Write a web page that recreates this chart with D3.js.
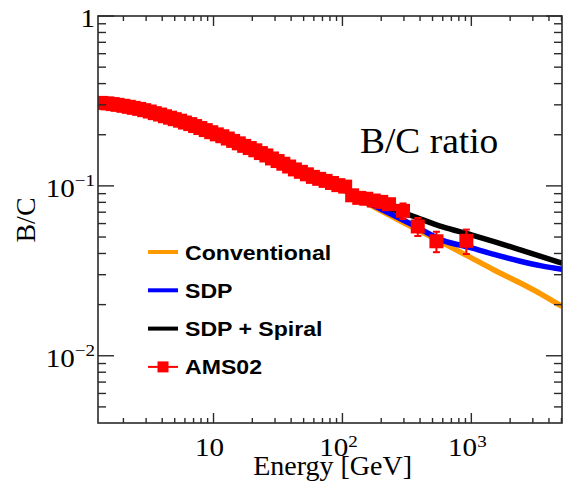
<!DOCTYPE html>
<html>
<head>
<meta charset="utf-8">
<script src="https://cdn.jsdelivr.net/npm/d3@7"></script>
<style>
  body { margin: 0; background: #fff; }
  svg { display: block; }
</style>
</head>
<body>
<div id="chart"></div>
<script>
// AMS02 B/C points
const energy = [1.35, 1.5, 1.65, 1.8, 2.0, 2.2, 2.4, 2.65, 2.9, 3.2, 3.5, 3.85, 4.2, 4.6, 5.0, 5.5, 6.0, 6.6, 7.2, 7.9,
    8.7, 9.6, 10.6, 11.7, 12.9, 14.2, 15.7, 17.3, 19.1, 21.1, 23.3, 25.7, 28.4, 31.4, 34.8, 38.6, 42.8, 47.6, 53, 59,
    66, 74, 83, 93, 105, 119, 135, 153, 175, 200, 230, 295, 384, 536, 915];
const bcRatio = [0.308, 0.306, 0.303, 0.300, 0.296, 0.292, 0.288, 0.284, 0.279, 0.274, 0.268, 0.263, 0.257, 0.252, 0.247, 0.242, 0.236, 0.231, 0.225, 0.219,
    0.213, 0.207, 0.201, 0.196, 0.190, 0.184, 0.178, 0.172, 0.167, 0.162, 0.156, 0.151, 0.145, 0.140, 0.135, 0.130, 0.125, 0.121, 0.117, 0.113,
    0.110, 0.107, 0.104, 0.101, 0.099, 0.088, 0.085, 0.084, 0.082, 0.0805, 0.078, 0.0713, 0.0577, 0.0472, 0.0475];
const bcError = [0.004, 0.004, 0.004, 0.004, 0.004, 0.004, 0.004, 0.004, 0.004, 0.004, 0.004, 0.004, 0.004, 0.004, 0.004, 0.004, 0.004, 0.004, 0.004, 0.004,
    0.004, 0.004, 0.004, 0.004, 0.004, 0.004, 0.004, 0.004, 0.004, 0.004, 0.004, 0.004, 0.004, 0.004, 0.004, 0.004, 0.004, 0.004, 0.004, 0.004,
    0.004, 0.004, 0.004, 0.004, 0.004, 0.004, 0.004, 0.004, 0.004, 0.004, 0.005, 0.0075, 0.007, 0.0065, 0.0078];

// model curves
const modelEnergy = [1.27, 2, 3, 5, 10, 20, 30, 50, 100, 150, 200, 350, 600, 1000, 1500, 2400, 3500, 5050];
const conventional = [0.31, 0.297, 0.282, 0.255, 0.208, 0.163, 0.142, 0.121, 0.095, 0.080, 0.0712, 0.0571, 0.0462, 0.0377, 0.0320, 0.0268, 0.0230, 0.0195];
const sdp = [0.31, 0.297, 0.282, 0.255, 0.208, 0.163, 0.142, 0.121, 0.096, 0.081, 0.0728, 0.059, 0.0478, 0.0432, 0.0395, 0.0360, 0.0338, 0.0323];
const sdpSpiral = [0.31, 0.297, 0.282, 0.255, 0.208, 0.163, 0.142, 0.121, 0.097, 0.0835, 0.077, 0.0665, 0.0573, 0.0515, 0.0470, 0.0420, 0.0383, 0.0351];

const seriesNames = ['Conventional', 'SDP', 'SDP + Spiral', 'AMS02'];
const seriesColors = ['#ff9900', '#0000ff', '#000000', '#ff0000'];

const xTickValues = [10, 100, 1000];
const xTickLabels = [['10', ''], ['10', '2'], ['10', '3']];
const yTickValues = [1, 0.1, 0.01];
const yTickLabels = [['1', ''], ['10', '\u22121'], ['10', '\u22122']];

const W = 581, H = 485;
const margin = { top: 16, right: 19, bottom: 62, left: 98 };
const plotW = W - margin.left - margin.right;
const plotH = H - margin.top - margin.bottom;

const svg = d3.select('#chart').append('svg')
    .attr('width', W)
    .attr('height', H);

const x = d3.scaleLog().domain([1.27, 5050]).range([0, plotW]);
const y = d3.scaleLog().domain([0.00402, 1]).range([plotH, 0]);

const g = svg.append('g')
    .attr('transform', `translate(${margin.left},${margin.top})`);

g.append('clipPath').attr('id', 'clip')
    .append('rect').attr('width', plotW).attr('height', plotH);

// curves
const line = d3.line()
    .x(d => x(d[0]))
    .y(d => y(d[1]))
    .curve(d3.curveMonotoneX);

const curves = g.append('g').attr('clip-path', 'url(#clip)');
[conventional, sdp, sdpSpiral].forEach((vals, i) => {
    curves.append('path')
        .datum(modelEnergy.map((e, k) => [e, vals[k]]))
        .attr('d', line)
        .attr('fill', 'none')
        .attr('stroke', seriesColors[i])
        .attr('stroke-width', 5.5);
});

// data points
const pts = energy.map((e, i) => ({ e: e, v: bcRatio[i], err: bcError[i] }));
const dataG = g.append('g').attr('clip-path', 'url(#clip)');
const ms = 14;

pts.forEach(d => {
    const cx = x(d.e), y0 = y(d.v - d.err), y1 = y(d.v + d.err);
    dataG.append('line')
        .attr('x1', cx).attr('x2', cx).attr('y1', y0).attr('y2', y1)
        .attr('stroke', '#ff0000').attr('stroke-width', 2);
    [y0, y1].forEach(yy => {
        dataG.append('line')
            .attr('x1', cx - 3.5).attr('x2', cx + 3.5).attr('y1', yy).attr('y2', yy)
            .attr('stroke', '#ff0000').attr('stroke-width', 2);
    });
});
dataG.selectAll('rect.pt')
    .data(pts)
    .enter().append('rect')
    .attr('class', 'pt')
    .attr('x', d => x(d.e) - ms / 2)
    .attr('y', d => y(d.v) - ms / 2)
    .attr('width', ms)
    .attr('height', ms)
    .attr('fill', '#ff0000');

// frame and ticks
const axisColor = '#2a2a2a';
g.append('rect')
    .attr('width', plotW).attr('height', plotH)
    .attr('fill', 'none').attr('stroke', axisColor).attr('stroke-width', 1.6);

const xMinor = [];
[1, 10, 100, 1000].forEach(dec => {
    for (let k = 2; k <= 9; k++) {
        const v = k * dec;
        if (v >= 1.27 && v <= 5050) xMinor.push(v);
    }
});
const yMinor = [];
[0.001, 0.01, 0.1].forEach(dec => {
    for (let k = 2; k <= 9; k++) {
        const v = k * dec;
        if (v >= 0.00402 && v <= 1) yMinor.push(v);
    }
});

const ticks = g.append('g').attr('stroke', axisColor).attr('stroke-width', 1.4);
xTickValues.forEach(v => {
    ticks.append('line').attr('x1', x(v)).attr('x2', x(v)).attr('y1', plotH).attr('y2', plotH - 10);
    ticks.append('line').attr('x1', x(v)).attr('x2', x(v)).attr('y1', 0).attr('y2', 10);
});
xMinor.forEach(v => {
    ticks.append('line').attr('x1', x(v)).attr('x2', x(v)).attr('y1', plotH).attr('y2', plotH - 5);
    ticks.append('line').attr('x1', x(v)).attr('x2', x(v)).attr('y1', 0).attr('y2', 5);
});
yTickValues.forEach(v => {
    ticks.append('line').attr('x1', 0).attr('x2', 16).attr('y1', y(v)).attr('y2', y(v));
    ticks.append('line').attr('x1', plotW).attr('x2', plotW - 16).attr('y1', y(v)).attr('y2', y(v));
});
yMinor.forEach(v => {
    ticks.append('line').attr('x1', 0).attr('x2', 8).attr('y1', y(v)).attr('y2', y(v));
    ticks.append('line').attr('x1', plotW).attr('x2', plotW - 8).attr('y1', y(v)).attr('y2', y(v));
});

// tick labels
const serif = "'Liberation Serif', 'Times New Roman', serif";
xTickValues.forEach((v, i) => {
    const t = g.append('text')
        .attr('transform', `translate(${x(v) - 4},${plotH + 33}) scale(1.12,1)`)
        .attr('text-anchor', 'middle')
        .attr('font-family', serif)
        .attr('font-size', 26)
        .attr('fill', '#000');
    t.append('tspan').text(xTickLabels[i][0]);
    if (xTickLabels[i][1]) {
        t.append('tspan').attr('dy', -9).attr('font-size', 17).text(xTickLabels[i][1]);
    }
});
yTickValues.forEach((v, i) => {
    const t = g.append('text')
        .attr('transform', `translate(-3,${y(v) + 11}) scale(1.12,1)`)
        .attr('text-anchor', 'end')
        .attr('font-family', serif)
        .attr('font-size', 26)
        .attr('fill', '#000');
    t.append('tspan').text(yTickLabels[i][0]);
    if (yTickLabels[i][1]) {
        t.append('tspan').attr('dy', -11).attr('font-size', 17).text(yTickLabels[i][1]);
    }
});

// axis titles
svg.append('text')
    .attr('x', 412)
    .attr('y', 475)
    .attr('text-anchor', 'end')
    .attr('font-family', serif)
    .attr('font-size', 28)
    .text('Energy [GeV]');

svg.append('text')
    .attr('transform', 'translate(35,220) rotate(-90)')
    .attr('text-anchor', 'middle')
    .attr('font-family', serif)
    .attr('font-size', 28)
    .text('B/C');

svg.append('text')
    .attr('transform', 'translate(360,153) scale(1.07,1)')
    .attr('font-family', serif)
    .attr('font-size', 35)
    .text('B/C ratio');

// legend
const legend = svg.append('g').attr('transform', 'translate(148,252)');
seriesNames.forEach((name, i) => {
    const row = legend.append('g').attr('transform', `translate(0,${i * 38.3})`);
    if (i < 3) {
        row.append('line')
            .attr('x1', 0).attr('x2', 30).attr('y1', 0).attr('y2', 0)
            .attr('stroke', seriesColors[i]).attr('stroke-width', 4);
    } else {
        row.append('line')
            .attr('x1', 0).attr('x2', 30).attr('y1', 0).attr('y2', 0)
            .attr('stroke', seriesColors[i]).attr('stroke-width', 2);
        row.append('rect')
            .attr('x', 9.5).attr('y', -5.5).attr('width', 11).attr('height', 11)
            .attr('fill', seriesColors[i]);
    }
    row.append('text')
        .attr('transform', 'translate(37,7.5) scale(1.1,1)')
        .attr('font-family', "'Liberation Sans', Arial, sans-serif")
        .attr('font-weight', 'bold')
        .attr('font-size', 21)
        .text(name);
});
</script>
</body>
</html>
